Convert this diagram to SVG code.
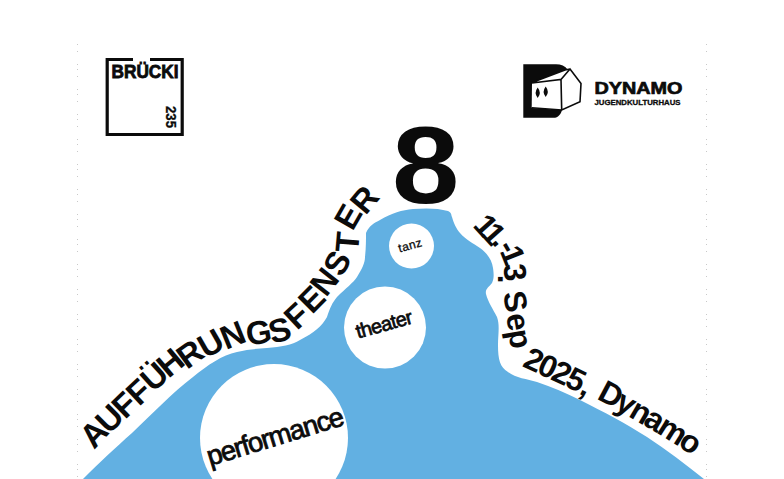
<svg xmlns="http://www.w3.org/2000/svg" width="784" height="479" viewBox="0 0 784 479">
<style>
text{font-family:"Liberation Sans",Arial,sans-serif;fill:#0b0b0b}
.b{font-weight:700}
.c{fill:#fff}
.d{stroke:#c9c9c9;stroke-width:1;stroke-dasharray:1 6 1 12 1 4}
.l{fill:none;stroke:#0b0b0b;stroke-width:1.600}
</style>
<rect width="784" height="479" fill="#fff"/>
<g id="margins"><path class="d" d="M77.500 44V479M706.500 44V479" fill="none"/></g>
<g id="hill">
<path fill="#62b0e2" d="M83 479 C100 462 115 448 132 433 C152 414 172 393 193 377 C208 365 222 355 237 352 C248 349 257 349 267 348 C281 347 292 345 300 340 C314 333 322 326 327 317 C330 308 332 303 337 297 C346 288 353 283 357 277 C362 269 365 263 365 257 C366 248 366 240 366 233 C369 226 374 223 380 220 C392 213 402 210 413 209 C425 208 438 208 448 211 C452 213 451 215 452 217 C454 224 456 228 460 233 C466 240 473 243 480 248 C487 253 492 260 493 268 C494 275 494 279 492 283 C489 287 485 289 486 294 C488 302 493 309 497 317 C500 325 498 335 498 345 C498 360 500 367 508 372 C516 378 527 379 537 382 C552 387 566 393 580 400 C604 412 625 423 647 437 C667 450 685 464 704 479 Z"/>
</g>
<g id="performance"><circle class="c" cx="274" cy="438" r="74"/><text transform="translate(210 466) rotate(-17)" font-size="27.500" textLength="142" stroke="#0b0b0b" stroke-width=".8">performance</text></g>
<g id="theater"><circle class="c" cx="385" cy="327.500" r="41"/><text transform="translate(358 338.500) rotate(-15.500)" font-size="20" textLength="58" stroke="#0b0b0b" stroke-width=".7">theater</text></g>
<g id="tanz"><circle class="c" cx="411.500" cy="246" r="22.500"/><text transform="translate(399.500 252.500) rotate(-15.500)" font-size="12" textLength="24" stroke="#0b0b0b" stroke-width=".3">tanz</text></g>
<g id="eight"><text class="b" transform="translate(392 203) scale(1.1 1)" font-size="110">8</text></g>
<g id="title"><text class="b" font-size="33" x="94 109 125 139 153 168.500 187 206 226 248 272 297 312 326 342 358 352.500 365.500" y="450 435 420 407 393 379 370 359 350 346 344 331 315 298 278 253 232 216" rotate="-47 -45 -44 -43 -42 -40 -36 -30 -22 -10 -15 -43 -45 -52 -62 -85 -60 -50">AUFFÜHRUNGSFENSTER</text></g>
<g id="date"><text class="b" font-size="31.500" x="472 480 490.700 497 499.500 503.500 498.300 503 503 506 508 520 521.500 535.500 549.500 563.500 578.300 590 596 613.500 627.500 642 655.500 677" y="226 234.500 242 247 251 264.500 274.700 290 293 315 331 360 366 372.500 379 385.500 393.300 395 398.500 408 416 424 432 445.500" rotate="48 48 50 60 68 85 90 85 80 80 80 30 25 25 25 26 27 28 28 29 30 31 32 33">11.-13. Sep 2025, Dynamo</text></g>
<g id="brucki">
<path d="M133 59.500H107.200V134.500H182.200V59.500H150" fill="none" stroke="#0b0b0b" stroke-width="3.200"/>
<text class="b" x="111.500" y="77.500" font-size="17.500" textLength="67" lengthAdjust="spacingAndGlyphs" stroke="#0b0b0b" stroke-width=".8">BRÜCKI</text>
<text class="b" transform="translate(165.500 106) rotate(90)" font-size="15.500" textLength="22" lengthAdjust="spacingAndGlyphs" stroke="#0b0b0b" stroke-width=".3">235</text>
</g>
<g id="dynamo">
<path fill="#0b0b0b" d="M523.300 64.300H556C561 64.300 565 66 568 70L532 83V108L562 110C561 114 558 117.700 555 117.700H523.300Z"/>
<path fill="#fff" d="M532 82.500L565 70L570 69L581 83.500L580 101.700L561.700 110L531.700 107.700Z"/>
<path class="l" d="M532 83L561 79.500L561.700 110M561 79.500L570 69L581 83.500L580 101.700L561.700 110L531.700 107.700M532 82.500L565 70L570 69"/>
<path fill="#0b0b0b" d="M537.700 87.500Q542 93 537.700 98Q533.500 93 537.700 87.500ZM545.700 86.500Q550 92 545.700 97Q541.500 92 545.700 86.500Z"/>
<text class="b" x="594.500" y="94.300" font-size="17" textLength="88" lengthAdjust="spacingAndGlyphs" stroke="#0b0b0b" stroke-width=".7">DYNAMO</text>
<text class="b" x="594.500" y="104.500" font-size="7" textLength="86" lengthAdjust="spacingAndGlyphs" stroke="#0b0b0b" stroke-width=".3">JUGENDKULTURHAUS</text>
</g>
</svg>
